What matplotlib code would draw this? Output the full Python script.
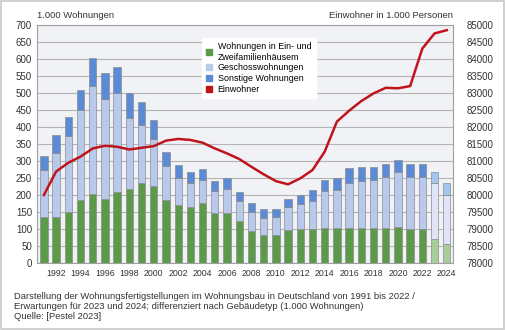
import matplotlib.pyplot as plt
import numpy as np
from matplotlib.patches import Rectangle

plt.rcParams['font.family'] = ['Liberation Sans', 'DejaVu Sans']

years = list(range(1991, 2025))
efh = [134, 136, 149, 184, 204, 188, 210, 218, 236, 228, 185, 171, 165, 176, 148, 148, 123,
       94, 83, 83, 97, 99, 99, 104, 104, 103, 103, 103, 102, 105, 99, 99, 71, 55]
geschoss = [274, 325, 374, 450, 522, 482, 499, 427, 406, 365, 286, 251, 234, 244, 212, 218, 182,
            149, 133, 136, 164, 173, 183, 211, 215, 234, 242, 244, 254, 268, 254, 254, 234, 199]
gesamt = [316, 376, 431, 510, 603, 560, 578, 500, 473, 421, 326, 289, 269, 278, 241, 249, 209,
          176, 158, 158, 188, 200, 216, 244, 249, 279, 283, 283, 291, 303, 291, 291, 269, 234]
einwohner = [80000, 80690, 80950, 81130, 81370, 81450, 81420, 81340, 81390, 81440, 81600, 81650,
             81620, 81540, 81370, 81225, 81060, 80830, 80610, 80410, 80315, 80490, 80735, 81275,
             82160, 82480, 82765, 82990, 83155, 83140, 83205, 84310, 84755, 84850]

efh = np.array(efh)
geschoss = np.array(geschoss)
gesamt = np.array(gesamt)
x = np.arange(len(years))
prog = np.array([y >= 2023 for y in years])

c_green = np.where(prog, '#a9cc9b', '#5a9a48')
c_light = np.where(prog, '#dfe4f6', '#b9c9ec')
c_dark = np.where(prog, '#a3c6ef', '#5b8bd6')

fig = plt.figure(figsize=(5.06, 3.30), dpi=100)
fig.patches.append(Rectangle((0.002, 0.004), 0.995, 0.993, transform=fig.transFigure,
                             fill=False, edgecolor='#c8c8c8', linewidth=1.2))
ax = fig.add_axes([0.073, 0.203, 0.822, 0.721])
ax.set_facecolor('#f1f2f5')

w = 0.6
ec = '#8c8c8c'
ax.bar(x, efh, width=w, color=c_green, edgecolor=ec, linewidth=0.5, zorder=2)
ax.bar(x, geschoss - efh, bottom=efh, width=w, color=c_light, edgecolor=ec, linewidth=0.5, zorder=2)
ax.bar(x, gesamt - geschoss, bottom=geschoss, width=w, color=c_dark, edgecolor=ec, linewidth=0.5, zorder=2)

ax.set_ylim(0, 700)
ax.set_yticks(range(0, 701, 50))
ax.set_xlim(-0.57, 33.5)
ax.set_xticks(x[1::2])
ax.set_xticklabels([str(y) for y in years[1::2]])
ax.grid(axis='y', color='#b4b4b4', linewidth=0.8, zorder=0)
ax.set_axisbelow(True)
ax.tick_params(axis='both', length=0, labelsize=7, colors='#333333')
ax.tick_params(axis='x', pad=4, labelsize=6.3)
for s in ax.spines.values():
    s.set_color('#a0a0a0')
    s.set_linewidth(0.8)

ax2 = ax.twinx()
ax2.plot(x, einwohner, color='#c0141c', linewidth=1.8, solid_joinstyle='round', zorder=3)
ax2.set_ylim(78000, 85000)
ax2.set_yticks(range(78000, 85001, 500))
ax2.tick_params(axis='y', length=0, labelsize=7, colors='#333333', pad=10)
for s in ax2.spines.values():
    s.set_visible(False)

fig.text(0.073, 0.952, '1.000 Wohnungen', fontsize=6.8, color='#333333', va='center')
fig.text(0.895, 0.952, 'Einwohner in 1.000 Personen', fontsize=6.8, color='#333333',
         va='center', ha='right')

handles = [Rectangle((0, 0), 1, 1, color=c) for c in ['#5a9a48', '#b9c9ec', '#5b8bd6', '#c0141c']]
labels = ['Wohnungen in Ein- und\nZweifamilienhäusem', 'Geschosswohnungen',
          'Sonstige Wohnungen', 'Einwohner']
leg = ax.legend(handles, labels, loc='upper left', bbox_to_anchor=(0.385, 0.965), fontsize=6.4,
                frameon=True, fancybox=False, edgecolor='white', framealpha=1,
                handlelength=0.7, handleheight=0.7, handletextpad=0.6, labelspacing=0.2,
                borderpad=0.5)
leg.set_zorder(5)

fig.text(0.028, 0.071, 'Darstellung der Wohnungsfertigstellungen im Wohnungsbau in Deutschland von 1991 bis 2022 /\n'
         'Erwartungen für 2023 und 2024; differenziert nach Gebäudetyp (1.000 Wohnungen)\n'
         'Quelle: [Pestel 2023]', fontsize=6.75, color='#333333', va='center', linespacing=1.2)

fig.savefig('out.png', dpi=100)
